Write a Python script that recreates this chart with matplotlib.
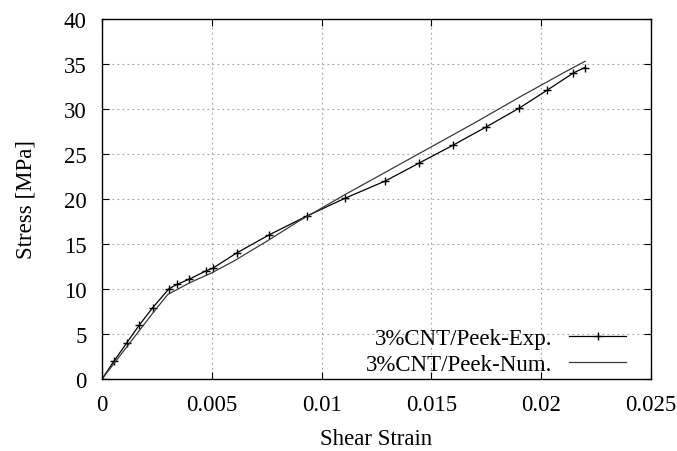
import matplotlib
matplotlib.use('Agg')
import matplotlib.pyplot as plt

plt.rcParams['font.family'] = ['Liberation Serif', 'DejaVu Serif']

exp_strain = [0.0, 0.00055, 0.00112, 0.0017, 0.0023, 0.00304, 0.0034, 0.00398,
              0.00472, 0.00504, 0.00613, 0.0076, 0.00932, 0.01108, 0.0129,
              0.01445, 0.016, 0.01749, 0.019, 0.02028, 0.02146, 0.02198]
exp_stress = [0.0, 2.0, 4.0, 6.0, 7.9, 10.0, 10.5, 11.1, 12.0, 12.3, 14.0, 16.0,
              18.1, 20.1, 22.0, 24.0, 26.0, 28.0, 30.1, 32.1, 34.0, 34.6]

# numerical curve
num_strain = [0.0, 0.0006, 0.0012, 0.0018, 0.0024, 0.0030, 0.0040, 0.0050,
              0.0060, 0.0075, 0.0090, 0.0093, 0.0110, 0.0130, 0.0150, 0.0170,
              0.0190, 0.0210, 0.0220]
num_stress = [0.0, 1.9, 3.8, 5.7, 7.6, 9.4, 10.7, 11.8, 13.1, 15.3, 17.6, 18.0,
              20.4, 23.1, 25.8, 28.5, 31.3, 34.0, 35.3]

fs = 16.5

fig = plt.figure(figsize=(6.77, 4.52), dpi=100)
ax = fig.add_axes([0.1507, 0.1593, 0.8109, 0.7965])

ax.plot(exp_strain, exp_stress, color='black', lw=0.9, marker='+',
        markersize=6, markeredgewidth=1.0, label='3%CNT/Peek-Exp.')
ax.plot(num_strain, num_stress, color='#3a3a3a', lw=0.9,
        label='3%CNT/Peek-Num.')

ax.set_xlim(0, 0.025)
ax.set_ylim(0, 40)
ax.set_xticks([0, 0.005, 0.01, 0.015, 0.02, 0.025])
ax.set_xticklabels(['0', '0.005', '0.01', '0.015', '0.02', '0.025'])
ax.set_yticks(range(0, 41, 5))
ax.grid(True, color='#a0a0a0', linestyle=(0, (1.5, 3)), linewidth=0.8)
ax.tick_params(direction='in', top=True, right=True, length=5, width=0.8,
               labelsize=fs, pad=11)
for s in ax.spines.values():
    s.set_linewidth(1.0)

ax.set_xlabel('Shear Strain', fontsize=fs, labelpad=9)
ax.set_ylabel('Stress [MPa]', fontsize=fs, labelpad=20)

ax.legend(loc='lower right', bbox_to_anchor=(0.976, -0.021), frameon=False,
          markerfirst=False, numpoints=1, handlelength=2.5, fontsize=fs,
          labelspacing=0.2, borderpad=0, handletextpad=0.75)

fig.savefig('out.png', dpi=100)
